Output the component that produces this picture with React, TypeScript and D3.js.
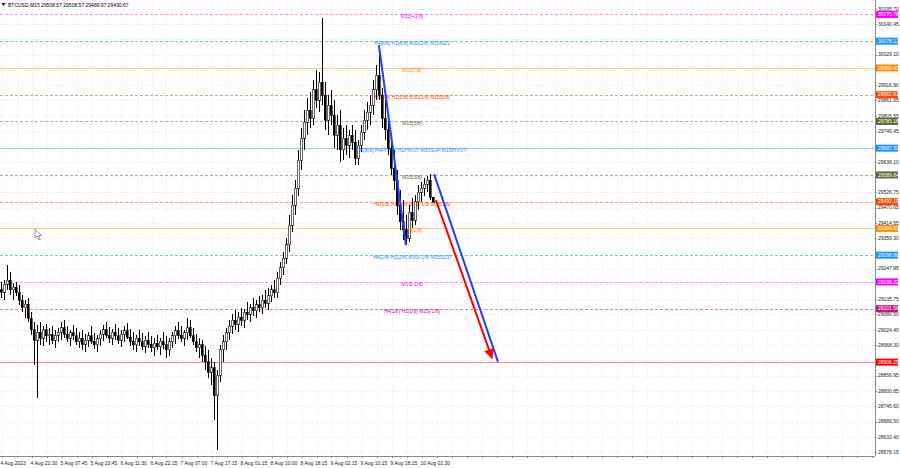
import * as d3 from 'd3'

// chart window size
const W = 900
const H = 468
const plotRight = 875
const plotBottom = 456

const header = 'BTCUSD,M15  29508.57 29508.57 29489.97 29490.67'

const timeLabels = [
  '4 Aug 2023', '4 Aug 22:30', '5 Aug 07:45', '5 Aug 23:45', '6 Aug 11:30',
  '6 Aug 22:15', '7 Aug 07:00', '7 Aug 17:15', '8 Aug 01:15', '8 Aug 10:00',
  '8 Aug 18:15', '9 Aug 02:15', '9 Aug 10:15', '9 Aug 18:15', '10 Aug 02:30',
]

const priceTicks = [
  30195.70, 30140.45, 30084.35, 30029.10, 29973.85, 29916.90, 29861.65, 29805.55,
  29749.45, 29694.20, 29638.10, 29582.85, 29526.75, 29470.65, 29414.55, 29359.30,
  29303.20, 29247.95, 29191.85, 29135.75, 29080.50, 29024.40, 28968.30, 28913.05,
  28856.95, 28800.85, 28745.60, 28689.50, 28633.40, 28578.15,
]

// murrey math levels
const levelValues = [
  30175.78, 30078.12, 29980.47, 29882.81, 29785.16, 29687.50, 29589.84,
  29492.19, 29394.53, 29296.88, 29199.22, 29101.56, 28906.25,
]
const levelLabels = [
  'M15[+1/8]',
  'H4[8/8] H1[8/8] M30[2/8] M15RES',
  'M15[7/8]',
  'H4[6/8] H1[5/8] M30[1/8] M15[6/8]',
  'M15[5/8]',
  'D1[8/8] H4PIVOT H1PIVOT M30SUP M15PIVOT',
  'M15[3/8]',
  'H4[3/8] H1[3/8] M30[-1/8] M15[2/8]',
  'M15[1/8]',
  'H4[2/8] H1[2/8] M30[-2/8] M15SUP',
  'M15[-1/8]',
  'H4[1/8] H1[1/8] M15[-2/8]',
  '',
]

// open, high, low, close
const ohlc: number[][] = [
  [29170, 29199, 29140, 29162], [29162, 29206, 29133, 29191], [29191, 29261, 29170, 29206], [29206, 29235, 29151, 29170],
  [29170, 29195, 29133, 29180], [29180, 29199, 29148, 29159], [29159, 29188, 29115, 29133], [29133, 29151, 29089, 29104],
  [29104, 29133, 29067, 29118], [29118, 29140, 29053, 29067], [29067, 29089, 29005, 29024], [29024, 29053, 28896, 28987],
  [28987, 29042, 28775, 29016], [29016, 29053, 28969, 28994], [28994, 29038, 28965, 29024], [29024, 29045, 28980, 29002],
  [29002, 29031, 28969, 29009], [29009, 29038, 28972, 28987], [28987, 29024, 28958, 29005], [29005, 29031, 28980, 29016],
  [29016, 29053, 28987, 29031], [29031, 29060, 28994, 29009], [29009, 29038, 28980, 28994], [28994, 29024, 28965, 29013],
  [29013, 29042, 28987, 29002], [29002, 29031, 28969, 28980], [28980, 29016, 28958, 28994], [28994, 29024, 28951, 28972],
  [28972, 29009, 28943, 28987], [28987, 29016, 28962, 29002], [29002, 29038, 28972, 28983], [28983, 29013, 28954, 28969],
  [28969, 29005, 28943, 28991], [28991, 29024, 28965, 29009], [29009, 29042, 28983, 29024], [29024, 29053, 28994, 29005],
  [29005, 29035, 28976, 28994], [28994, 29027, 28969, 29016], [29016, 29045, 28987, 29002], [29002, 29031, 28972, 28987],
  [28987, 29024, 28962, 29009], [29009, 29038, 28980, 29020], [29020, 29049, 28991, 28998], [28998, 29027, 28965, 28983],
  [28983, 29016, 28951, 28969], [28969, 29005, 28943, 28994], [28994, 29024, 28965, 28980], [28980, 29013, 28951, 28965],
  [28965, 29002, 28940, 28987], [28987, 29016, 28958, 28972], [28972, 29002, 28943, 28958], [28958, 28994, 28929, 28976],
  [28976, 29005, 28951, 28962], [28962, 28994, 28932, 28983], [28983, 29016, 28954, 28969], [28969, 29002, 28921, 28951],
  [28951, 28994, 28929, 28980], [28980, 29016, 28958, 29002], [29002, 29038, 28972, 29020], [29020, 29053, 28991, 29005],
  [29005, 29038, 28980, 28994], [28994, 29024, 28965, 29013], [29013, 29067, 28987, 29031], [29031, 29060, 28994, 29002],
  [29002, 29031, 28969, 28980], [28980, 29009, 28943, 28958], [28958, 28994, 28921, 28969], [28969, 28987, 28907, 28932],
  [28932, 28965, 28877, 28907], [28907, 28951, 28848, 28870], [28870, 28921, 28823, 28885], [28885, 28907, 28695, 28786],
  [28786, 28877, 28585, 28859], [28859, 28969, 28834, 28951], [28951, 29005, 28907, 28980], [28980, 29031, 28951, 29013],
  [29013, 29060, 28987, 29038], [29038, 29082, 29009, 29060], [29060, 29097, 29024, 29045], [29045, 29089, 29016, 29071],
  [29071, 29104, 29038, 29060], [29060, 29100, 29031, 29089], [29089, 29126, 29060, 29082], [29082, 29118, 29053, 29104],
  [29104, 29140, 29075, 29093], [29093, 29133, 29067, 29115], [29115, 29148, 29089, 29104], [29104, 29151, 29082, 29133],
  [29133, 29170, 29104, 29122], [29122, 29177, 29097, 29148], [29148, 29188, 29126, 29170], [29170, 29206, 29140, 29159],
  [29159, 29235, 29140, 29213], [29213, 29272, 29188, 29250], [29250, 29308, 29224, 29286], [29286, 29359, 29264, 29334],
  [29334, 29443, 29308, 29407], [29407, 29516, 29381, 29480], [29480, 29571, 29443, 29542], [29542, 29681, 29513, 29644],
  [29644, 29761, 29608, 29724], [29724, 29826, 29681, 29783], [29783, 29870, 29735, 29826], [29826, 29892, 29761, 29797],
  [29797, 29936, 29772, 29900], [29900, 29972, 29834, 29863], [29863, 29965, 29819, 29929], [29929, 30162, 29845, 29881],
  [29881, 29929, 29754, 29790], [29790, 29881, 29735, 29845], [29845, 29900, 29772, 29808], [29808, 29863, 29688, 29735],
  [29735, 29808, 29681, 29772], [29772, 29826, 29637, 29681], [29681, 29761, 29644, 29724], [29724, 29772, 29662, 29699],
  [29699, 29754, 29651, 29735], [29735, 29772, 29681, 29710], [29710, 29754, 29626, 29651], [29651, 29717, 29626, 29699],
  [29699, 29772, 29673, 29746], [29746, 29826, 29717, 29790], [29790, 29856, 29754, 29819], [29819, 29881, 29772, 29845],
  [29845, 29936, 29808, 29900], [29900, 29991, 29863, 29954], [29954, 30027, 29863, 29881], [29881, 29907, 29761, 29797],
  [29797, 29863, 29717, 29754], [29754, 29808, 29662, 29688], [29688, 29735, 29589, 29615], [29615, 29681, 29535, 29571],
  [29571, 29608, 29443, 29480], [29480, 29535, 29389, 29418], [29418, 29498, 29352, 29389], [29389, 29443, 29334, 29359],
  [29359, 29480, 29345, 29454], [29454, 29505, 29396, 29425], [29425, 29516, 29407, 29491], [29491, 29553, 29462, 29527],
  [29527, 29564, 29491, 29542], [29542, 29578, 29513, 29556], [29556, 29586, 29527, 29571], [29571, 29593, 29500, 29508.57],
  [29508.57, 29508.57, 29489.97, 29490.67],
]

// trend lines: [bar index, price] anchors
const blueLine1 = [[125.8, 30064], [134.8, 29334]]
const blueLine2 = [[144.2, 29593], [165.5, 28907]]
const redArrow = [[144.8, 29498], [163.5, 28921]]

// styles for the level lines (same order as levelValues)
const levelStyle = [
  { line: '#ff88ff', text: '#ff00ff', box: '#ff00ff', dash: '3,2' },
  { line: '#78b8ff', text: '#1e90ff', box: '#1e90ff', dash: '3,2' },
  { line: '#ffcc8a', text: '#ff8c00', box: '#ff8c00', dash: '' },
  { line: '#ff9474', text: '#ff4500', box: '#ff4500', dash: '3,2' },
  { line: '#b0b0a0', text: '#556b2f', box: '#556b2f', dash: '3,2' },
  { line: '#8cc8ff', text: '#1e90ff', box: '#1e90ff', dash: '' },
  { line: '#b0b0a0', text: '#556b2f', box: '#556b2f', dash: '3,2' },
  { line: '#ff9474', text: '#ff4500', box: '#ff4500', dash: '3,2' },
  { line: '#ffcc8a', text: '#ff8c00', box: '#ff8c00', dash: '' },
  { line: '#78b8ff', text: '#1e90ff', box: '#1e90ff', dash: '3,2' },
  { line: '#ff88ff', text: '#ff00ff', box: '#ff00ff', dash: '3,2' },
  { line: '#e878b8', text: '#c71585', box: '#c71585', dash: '3,2' },
  { line: '#ff8080', text: '#ff0000', box: '#ff0000', dash: '' },
]

export default function App() {
  const x = d3.scaleLinear().domain([0, 291]).range([1.5, 874.5])
  const y = d3.scaleLinear().domain([28578.15, 30195.7]).range([452, 9])
  const font = "'Liberation Sans', Arial, sans-serif"

  const gridX = d3.range(0, 291, 5)
  const seg = (pts: number[][]) => d3.line()(pts.map(p => [x(p[0]), y(p[1])] as [number, number]))

  // tick labels hidden behind a level box, like the terminal does
  const visibleTicks = priceTicks.filter(p => !levelValues.some(v => Math.abs(y(v) - y(p)) < 4))

  return (
    <svg width={W} height={H} style={{ display: 'block', position: 'absolute', left: 0, top: 0, background: '#fff' }} fontFamily={font}>
      <rect x={0} y={0} width={W} height={H} fill="#fff" />
      {/* grid */}
      <g stroke="#e4e4e4" strokeWidth={1} strokeDasharray="1,2">
        {gridX.map(i => (
          <line key={'gx' + i} x1={Math.round(x(i)) + 0.5} x2={Math.round(x(i)) + 0.5} y1={0} y2={plotBottom} />
        ))}
        {priceTicks.map(p => (
          <line key={'gy' + p} x1={0} x2={plotRight} y1={Math.round(y(p)) + 0.5} y2={Math.round(y(p)) + 0.5} />
        ))}
      </g>

      {/* level lines */}
      {levelValues.map((v, k) => (
        <line key={'lv' + k} x1={0} x2={plotRight} y1={Math.round(y(v)) + 0.5} y2={Math.round(y(v)) + 0.5}
          stroke={levelStyle[k].line} strokeWidth={1} strokeDasharray={levelStyle[k].dash || undefined} />
      ))}
      {levelValues.map((v, k) => levelLabels[k] ? (
        <text key={'lt' + k} x={412} y={y(v) + 4} fontSize={5} textAnchor="middle" fill={levelStyle[k].text}>
          {levelLabels[k]}
        </text>
      ) : null)}

      {/* candles */}
      <g shapeRendering="crispEdges">
        {ohlc.map((c, i) => {
          const [o, h, l, cl] = c
          const cx = x(i)
          const top = y(Math.max(o, cl))
          const bot = y(Math.min(o, cl))
          const bull = cl >= o
          return (
            <g key={'c' + i}>
              <line x1={cx} x2={cx} y1={y(h)} y2={y(l)} stroke="#000" strokeWidth={1} />
              <rect x={cx - 1.5} y={top} width={2} height={Math.max(1, bot - top)}
                fill={bull ? '#fff' : '#000'} stroke="#000" strokeWidth={0.6} />
            </g>
          )
        })}
      </g>

      {/* trend lines */}
      <defs>
        <marker id="arrowRed" viewBox="0 0 10 10" refX={9} refY={5} markerWidth={5} markerHeight={5} orient="auto">
          <path d="M0,0 L10,5 L0,10 Z" fill="#ff0000" />
        </marker>
      </defs>
      <path d={seg(blueLine1) || ''} stroke="#2040ff" strokeWidth={2} fill="none" />
      <path d={seg(blueLine2) || ''} stroke="#2040ff" strokeWidth={2} fill="none" />
      <path d={seg(redArrow) || ''} stroke="#ff0000" strokeWidth={2} fill="none" markerEnd="url(#arrowRed)" />

      {/* mouse cursor */}
      <path d="M35,229 L35,238 L37.2,236 L39,240 L40.4,239.3 L38.7,235.5 L41.5,235.5 Z" fill="#fff" stroke="#555" strokeWidth={0.6} />

      {/* frame */}
      <line x1={plotRight + 0.5} x2={plotRight + 0.5} y1={0} y2={plotBottom} stroke="#888" />
      <line x1={0} x2={plotRight} y1={plotBottom + 0.5} y2={plotBottom + 0.5} stroke="#888" />

      {/* price axis */}
      {priceTicks.map(p => (
        <line key={'ptk' + p} x1={plotRight} x2={plotRight + 2} y1={Math.round(y(p)) + 0.5} y2={Math.round(y(p)) + 0.5} stroke="#888" />
      ))}
      {visibleTicks.map(p => (
        <text key={'pt' + p} x={878} y={y(p) + 1.8} fontSize={5} fill="#222">{p.toFixed(2)}</text>
      ))}
      {levelValues.map((v, k) => (
        <g key={'lb' + k}>
          <rect x={876} y={y(v) - 3.5} width={22} height={7} fill={levelStyle[k].box} />
          <text x={878} y={y(v) + 1.8} fontSize={5} fill="#fff">{v.toFixed(2)}</text>
        </g>
      ))}

      {/* time axis */}
      {gridX.map(i => (
        <line key={'tk' + i} x1={Math.round(x(i)) + 0.5} x2={Math.round(x(i)) + 0.5} y1={plotBottom} y2={plotBottom + 2} stroke="#888" />
      ))}
      {timeLabels.map((t, k) => (
        <text key={'tl' + k} x={x(k * 10) - 1} y={465} fontSize={5} fill="#222">{t}</text>
      ))}

      {/* header */}
      <path d="M1.5,3 L5.5,3 L3.5,6 Z" fill="#000" />
      <text x={8} y={6.5} fontSize={5} fill="#000">{header}</text>
    </svg>
  )
}
